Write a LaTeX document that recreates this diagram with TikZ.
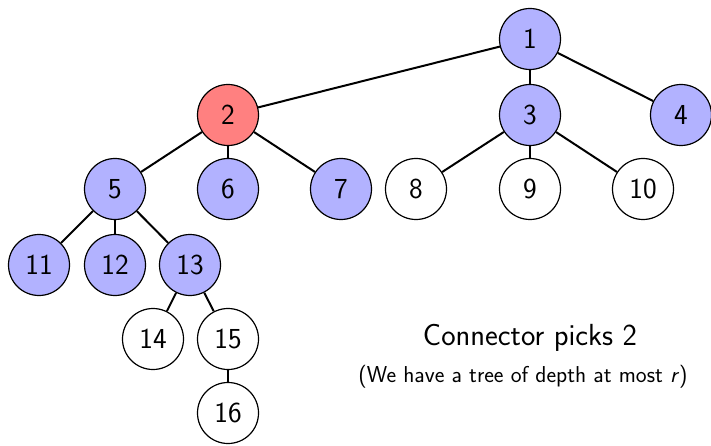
\documentclass[tikz,border=0pt]{standalone}
\usepackage{fontspec}
\usepackage{tikz}
\begin{document}
\begin{tikzpicture}[x=1pt,y=-1pt,
  vtx/.style={circle,draw=black,line width=1.2pt,minimum size=61pt,inner sep=0pt,font=\sffamily\fontsize{29}{31}\selectfont},
  blu/.style={vtx,fill=blue!30},
  rd/.style={vtx,fill=red!50},
  wh/.style={vtx,fill=white},
  edge/.style={line width=2pt}]
\useasboundingbox (0,0) rectangle (711,446);
\node[blu] (n1) at (530,39) {1};
\node[rd] (n2) at (228,115) {2};
\node[blu] (n3) at (530,115) {3};
\node[blu] (n4) at (681,115) {4};
\node[blu] (n5) at (115,189) {5};
\node[blu] (n6) at (228,189) {6};
\node[blu] (n7) at (341,189) {7};
\node[wh] (n8) at (416,189) {8};
\node[wh] (n9) at (530,189) {9};
\node[wh] (n10) at (643,189) {10};
\node[blu] (n11) at (39,265) {11};
\node[blu] (n12) at (115,265) {12};
\node[blu] (n13) at (190,265) {13};
\node[wh] (n14) at (153,339) {14};
\node[wh] (n15) at (228,339) {15};
\node[wh] (n16) at (228,413) {16};
\foreach \a/\b in {n1/n2,n1/n3,n1/n4,n2/n5,n2/n6,n2/n7,n3/n8,n3/n9,n3/n10,n5/n11,n5/n12,n5/n13,n13/n14,n13/n15,n15/n16}
  \draw[edge] (\a) -- (\b);
\node[font=\sffamily\fontsize{30.5}{33}\selectfont] (t1) at (530,338) {Connector picks 2};
\node[font=\sffamily\fontsize{23}{26}\selectfont] (t2) at (523,377) {(We have a tree of depth at most \textit{r})};
\end{tikzpicture}
\end{document}
